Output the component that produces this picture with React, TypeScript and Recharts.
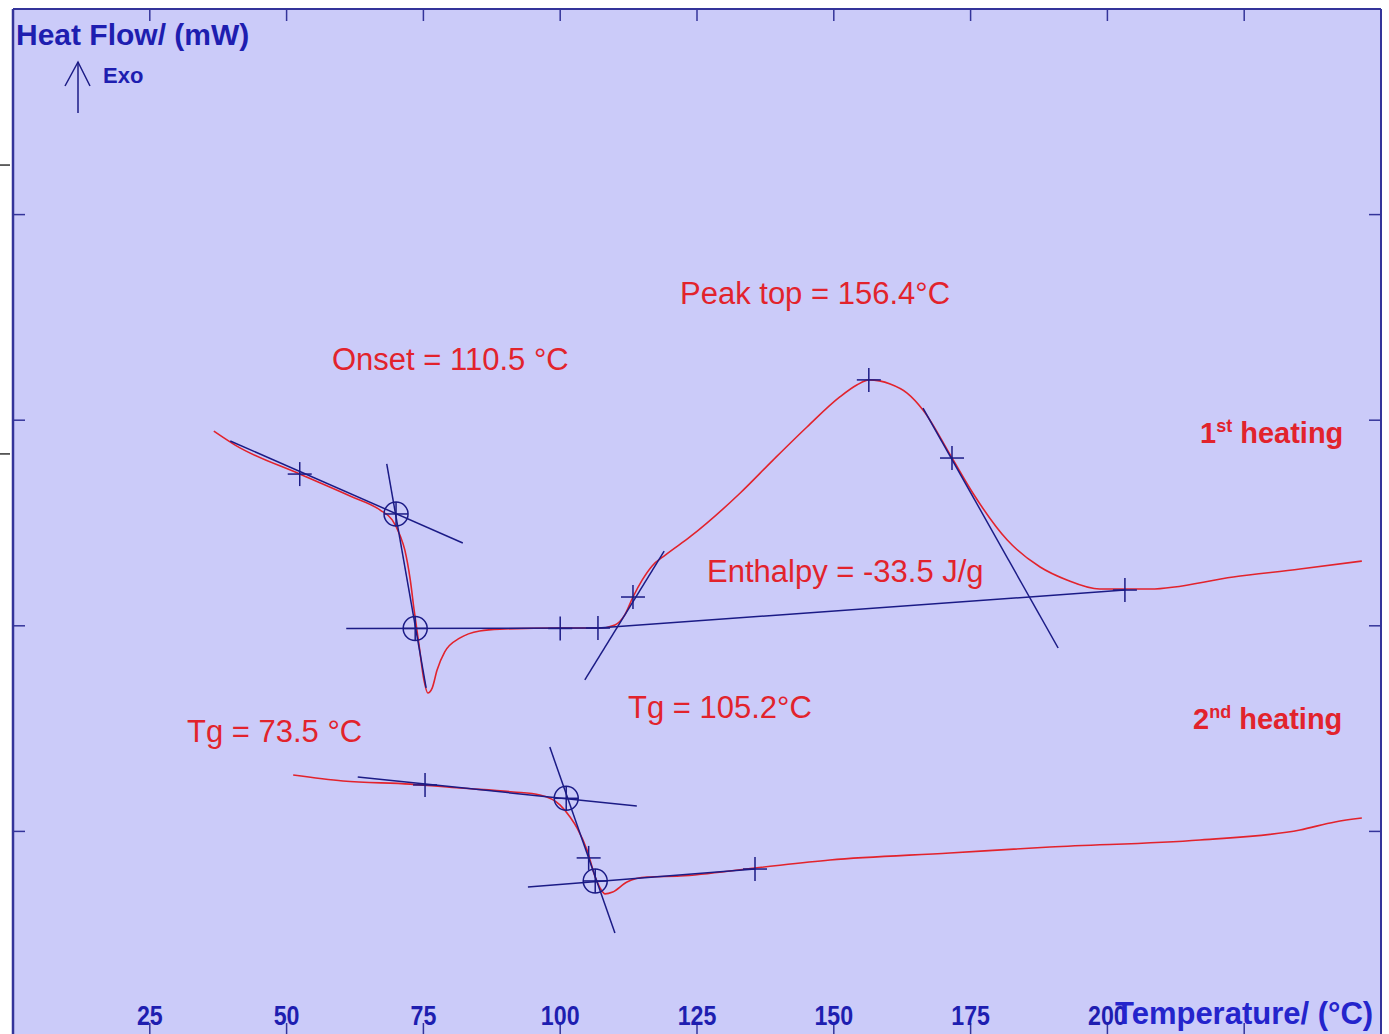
import React from "react";
import { CartesianGrid, ComposedChart, Line, Scatter, XAxis, YAxis } from "recharts";

const BG = "#cbcbf9";
const FRAME = "#34349a";
const AXIS_BLUE = "#1e1eb0";
const RED = "#e2232c";
const NAVY = "#1b1b86";
const FONT = '"Liberation Sans", Arial, sans-serif';

// 1st heating: temperature (°C) / heat flow (mW)
const FIRST_T = [
  36.7, 40.6, 52.4, 61.6, 67.1, 69.3, 70.7, 71.6, 72.6, 73.3, 74.2, 75.1, 75.8, 76.6, 77.5,
  78.9, 81.7, 85.3, 89.0, 100.0, 107.3, 110.0, 111.8, 113.3, 115.0, 116.8, 119.2, 123.7,
  132.9, 138.9, 145.1, 151.1, 154.2, 156.4, 160.3, 163.4, 166.3, 171.6, 175.4, 181.7, 187.7,
  192.6, 198.6, 207.8, 223.0, 235.2, 246.5,
];
const FIRST_HF = [
  0.947, 0.879, 0.738, 0.631, 0.563, 0.515, 0.442, 0.369, 0.223, 0.077, -0.093, -0.264,
  -0.327, -0.303, -0.215, -0.127, -0.059, -0.025, -0.016, -0.011, -0.011, 0.004, 0.053, 0.14,
  0.223, 0.291, 0.344, 0.432, 0.646, 0.806, 0.967, 1.113, 1.171, 1.196, 1.176, 1.132, 1.05,
  0.816, 0.646, 0.417, 0.286, 0.223, 0.179, 0.179, 0.237, 0.276, 0.315,
];

// 2nd heating
const SECOND_T = [
  51.2, 60.3, 72.6, 81.7, 91.4, 96.3, 100.0, 101.8, 103.1, 104.9, 106.4, 107.3, 108.2, 109.6,
  112.2, 115.9, 121.9, 135.6, 149.3, 171.2, 189.5, 216.9, 235.2, 241.6, 246.5,
];
const SECOND_HF = [
  -0.726, -0.755, -0.77, -0.789, -0.808, -0.823, -0.872, -0.93, -0.984, -1.091, -1.222,
  -1.276, -1.304, -1.295, -1.246, -1.222, -1.217, -1.178, -1.139, -1.105, -1.076, -1.042,
  -0.993, -0.954, -0.935,
];

// evaluation tangents / baselines, [start, end]
const TANGENT_T = [
  [39.7, 82.2], [68.3, 75.5], [60.9, 106.9], [106.9, 203.2], [104.5, 119.0], [166.3, 191.0],
  [63.0, 114.0], [98.1, 110.0], [94.1, 135.6],
];
const TANGENT_HF = [
  [0.899, 0.403], [0.787, -0.302], [-0.013, -0.011], [-0.011, 0.174], [-0.263, 0.363],
  [1.059, -0.108], [-0.735, -0.877], [-0.59, -1.494], [-1.27, -1.183],
];

// evaluation markers
const CROSS_T = [52.4, 100.0, 106.9, 113.3, 156.4, 171.6, 203.2, 75.3, 105.2, 135.6];
const CROSS_HF = [0.738, -0.013, -0.011, 0.14, 1.196, 0.816, 0.174, -0.774, -1.129, -1.183];
const CIRCLE_T = [70.0, 73.5, 101.1, 106.4];
const CIRCLE_HF = [0.544, -0.013, -0.839, -1.241];

const X_TICKS = [25, 50, 75, 100, 125, 150, 175, 200, 225];
const Y_TICKS = [-1, 0, 1, 2];
// short marks sitting outside the frame on the left
const OUTER_TICKS = [0.836, 2.241];

const toPoints = (ts: number[], vs: number[]) => ts.map((t, i) => ({ t, v: vs[i] }));

const firstHeating = toPoints(FIRST_T, FIRST_HF);
const secondHeating = toPoints(SECOND_T, SECOND_HF);
const tangents = TANGENT_T.map((ts, i) => toPoints(ts, TANGENT_HF[i]));
const crosses = toPoints(CROSS_T, CROSS_HF);
const circles = toPoints(CIRCLE_T, CIRCLE_HF);

function BottomTick({ x, y, payload }: any) {
  return (
    <g>
      <line x1={x} y1={y} x2={x} y2={y - 14} stroke={FRAME} strokeWidth={1.5} />
      {payload.value <= 200 && (
        // narrow, tall digits
        <text
          transform={`translate(${x},${y - 12}) scale(0.86,1)`}
          textAnchor="middle"
          fill={AXIS_BLUE}
          fontSize={27}
          fontWeight="bold"
          fontFamily={FONT}
        >
          {payload.value}
        </text>
      )}
    </g>
  );
}

const TopTick = ({ x, y }: any) => (
  <line x1={x} y1={y} x2={x} y2={y + 12} stroke={FRAME} strokeWidth={1.5} />
);

function LeftTick({ x, y, payload }: any) {
  if (OUTER_TICKS.includes(payload.value)) {
    return <line x1={x - 13} y1={y} x2={x - 3} y2={y} stroke="#333" strokeWidth={1.5} />;
  }
  return <line x1={x} y1={y} x2={x + 12} y2={y} stroke={FRAME} strokeWidth={1.5} />;
}

const RightTick = ({ x, y }: any) => (
  <line x1={x} y1={y} x2={x - 12} y2={y} stroke={FRAME} strokeWidth={1.5} />
);

const Cross = ({ cx, cy }: any) => (
  <g stroke={NAVY} strokeWidth={1.5}>
    <line x1={cx - 12} y1={cy} x2={cx + 12} y2={cy} />
    <line x1={cx} y1={cy - 12} x2={cx} y2={cy + 12} />
  </g>
);

const Ring = ({ cx, cy }: any) => (
  <g stroke={NAVY} strokeWidth={1.5} fill="none">
    <circle cx={cx} cy={cy} r={12} />
    <line x1={cx - 12} y1={cy} x2={cx + 12} y2={cy} />
    <line x1={cx} y1={cy - 12} x2={cx} y2={cy + 12} />
  </g>
);

const redText = { fill: RED, fontSize: 31, fontFamily: FONT };

export default function App() {
  return (
    <div
      style={{
        position: "absolute",
        left: 0,
        top: 0,
        width: 1389,
        height: 1034,
        overflow: "hidden",
        background: "#fff",
      }}
    >
      <ComposedChart width={1389} height={1038} margin={{ top: 8, right: 7, bottom: 0, left: 12 }}>
        <CartesianGrid fill={BG} horizontal={false} vertical={false} />
        <XAxis
          dataKey="t"
          type="number"
          domain={[0, 250]}
          ticks={X_TICKS}
          interval={0}
          allowDataOverflow
          height={1}
          axisLine={false}
          tickLine={false}
          tickSize={0}
          tickMargin={0}
          tick={BottomTick}
        />
        <XAxis
          xAxisId="top"
          orientation="top"
          dataKey="t"
          type="number"
          domain={[0, 250]}
          ticks={X_TICKS}
          interval={0}
          allowDataOverflow
          height={1}
          axisLine={{ stroke: FRAME, strokeWidth: 2 }}
          tickLine={false}
          tickSize={0}
          tickMargin={0}
          tick={TopTick}
        />
        <YAxis
          type="number"
          domain={[-2, 3]}
          ticks={[...Y_TICKS, ...OUTER_TICKS]}
          interval={0}
          allowDataOverflow
          width={1}
          axisLine={{ stroke: FRAME, strokeWidth: 2.5 }}
          tickLine={false}
          tickSize={0}
          tickMargin={0}
          tick={LeftTick}
        />
        <YAxis
          yAxisId="right"
          orientation="right"
          type="number"
          domain={[-2, 3]}
          ticks={Y_TICKS}
          interval={0}
          allowDataOverflow
          width={1}
          axisLine={{ stroke: FRAME, strokeWidth: 2 }}
          tickLine={false}
          tickSize={0}
          tickMargin={0}
          tick={RightTick}
        />

        <Line
          data={firstHeating}
          dataKey="v"
          type="monotone"
          stroke={RED}
          strokeWidth={1.6}
          dot={false}
          isAnimationActive={false}
        />
        <Line
          data={secondHeating}
          dataKey="v"
          type="monotone"
          stroke={RED}
          strokeWidth={1.6}
          dot={false}
          isAnimationActive={false}
        />
        {tangents.map((seg, i) => (
          <Line
            key={i}
            data={seg}
            dataKey="v"
            type="linear"
            stroke={NAVY}
            strokeWidth={1.5}
            dot={false}
            isAnimationActive={false}
          />
        ))}
        <Scatter data={crosses} dataKey="v" shape={Cross} isAnimationActive={false} />
        <Scatter data={circles} dataKey="v" shape={Ring} isAnimationActive={false} />
      </ComposedChart>

      <svg
        width={1389}
        height={1034}
        style={{ position: "absolute", left: 0, top: 0, pointerEvents: "none" }}
      >
        <text x={16} y={45} fill={AXIS_BLUE} fontSize={30} fontWeight="bold" fontFamily={FONT}>
          Heat Flow/ (mW)
        </text>
        <g stroke={NAVY} strokeWidth={1.5} fill="none">
          <line x1={78} y1={62} x2={78} y2={113} />
          <polyline points="65,86 78,62 90,86" />
        </g>
        <text x={103} y={83} fill={AXIS_BLUE} fontSize={22} fontWeight="bold" fontFamily={FONT}>
          Exo
        </text>
        <text x={1115} y={1024} fill="#2424cc" fontSize={31} fontWeight="bold" fontFamily={FONT}>
          Temperature/ (°C)
        </text>

        <text x={680} y={304} {...redText}>Peak top = 156.4°C</text>
        <text x={332} y={370} {...redText}>Onset = 110.5 °C</text>
        <text x={707} y={582} {...redText}>Enthalpy = -33.5 J/g</text>
        <text x={628} y={718} {...redText}>Tg = 105.2°C</text>
        <text x={187} y={742} {...redText}>Tg = 73.5 °C</text>
        <text x={1200} y={443} fill={RED} fontSize={29} fontWeight="bold" fontFamily={FONT}>
          1
          <tspan fontSize={18} dy={-11}>st</tspan>
          <tspan dy={11}> heating</tspan>
        </text>
        <text x={1193} y={729} fill={RED} fontSize={29} fontWeight="bold" fontFamily={FONT}>
          2
          <tspan fontSize={18} dy={-11}>nd</tspan>
          <tspan dy={11}> heating</tspan>
        </text>
      </svg>
    </div>
  );
}
